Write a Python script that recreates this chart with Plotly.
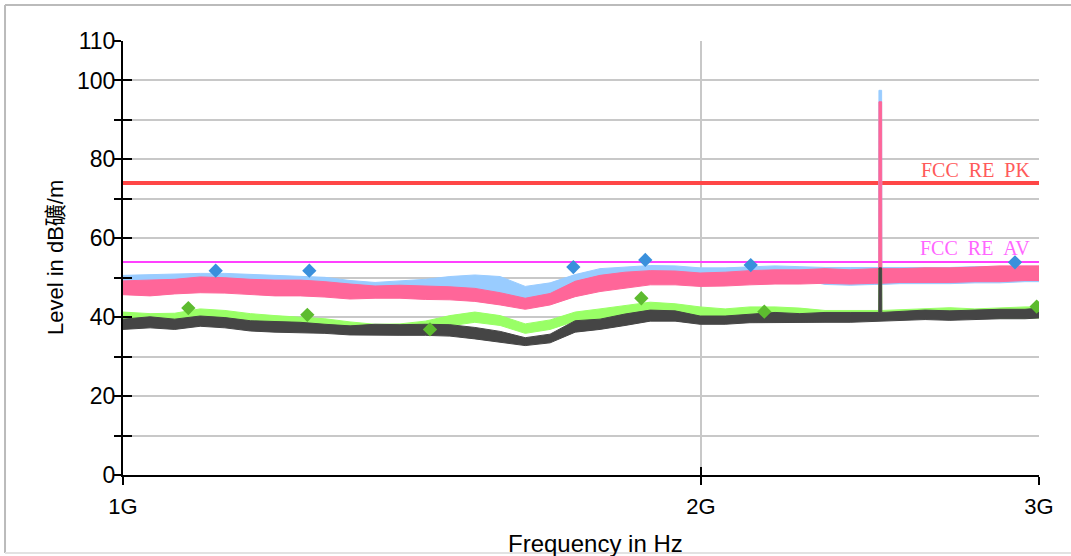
import plotly.graph_objects as go

# ---------------- data ----------------
freq_ghz = [1.000, 1.033, 1.064, 1.097, 1.130, 1.165, 1.200, 1.237, 1.274, 1.313,
            1.353, 1.394, 1.437, 1.480, 1.525, 1.572, 1.620, 1.669, 1.720, 1.772,
            1.826, 1.882, 1.939, 1.998, 2.059, 2.121, 2.186, 2.252, 2.321, 2.392,
            2.464, 2.4755, 2.476, 2.484, 2.4845, 2.539, 2.617, 2.696, 2.778, 2.863,
            2.950, 3.000]

peak_hi = [50.6, 50.8, 50.8, 51.1, 51.1, 50.8, 50.5, 50.3, 50.1, 49.3,
           48.8, 49.2, 49.6, 50.3, 50.7, 50.3, 47.8, 48.7, 50.8, 52.3,
           52.7, 53.1, 53.0, 52.5, 52.5, 52.8, 53.0, 52.8, 52.6, 52.6,
           52.6, 52.6, 97.5, 97.5, 52.6, 52.6, 52.6, 52.6, 52.8, 52.9,
           52.9, 52.9]
peak_lo = [47.4, 47.2, 47.6, 47.9, 47.8, 47.4, 47.2, 47.2, 46.9, 46.4,
           46.5, 46.5, 46.3, 46.2, 45.8, 45.0, 44.0, 45.0, 46.8, 48.0,
           48.8, 49.5, 49.5, 49.2, 49.3, 49.5, 49.6, 49.6, 48.3, 48.1,
           48.3, 48.3, 48.3, 48.3, 48.3, 48.5, 48.5, 48.5, 48.7, 48.7,
           49.0, 49.0]

peak2_hi = [49.2, 49.4, 49.6, 50.2, 50.0, 49.6, 49.4, 49.4, 49.0, 48.4,
            47.9, 48.1, 47.9, 47.7, 47.3, 46.2, 44.8, 46.0, 49.1, 50.6,
            51.4, 51.8, 51.7, 51.2, 51.4, 51.8, 52.0, 52.0, 52.3, 52.0,
            52.3, 52.3, 94.6, 94.6, 52.3, 52.3, 52.5, 52.5, 52.7, 53.0,
            53.0, 53.0]
peak2_lo = [45.7, 45.4, 45.9, 46.2, 46.1, 45.7, 45.4, 45.4, 45.1, 44.6,
            44.8, 44.8, 44.5, 44.4, 44.0, 43.1, 42.0, 43.1, 45.2, 46.5,
            47.3, 48.2, 48.2, 47.8, 47.9, 48.2, 48.4, 48.4, 48.6, 48.4,
            48.6, 48.6, 48.6, 48.6, 48.6, 48.8, 48.8, 48.8, 49.0, 49.0,
            49.3, 49.3]

avg_hi = [41.3, 40.9, 41.0, 42.1, 41.7, 40.9, 40.4, 40.0, 39.6, 38.8,
          38.2, 38.3, 39.0, 40.4, 41.3, 40.4, 38.3, 39.3, 41.3, 42.1,
          43.0, 43.8, 43.4, 42.6, 42.1, 42.6, 42.6, 42.3, 41.7, 41.7,
          41.7, 41.7, 52.0, 52.0, 41.7, 41.9, 42.1, 42.4, 42.1, 42.4,
          42.6, 42.6]
avg_lo = [39.0, 39.3, 39.0, 39.6, 39.3, 38.6, 38.3, 38.0, 37.6, 37.0,
          37.0, 37.0, 37.2, 37.8, 38.7, 37.9, 35.9, 36.9, 39.0, 39.4,
          40.3, 41.1, 40.7, 39.8, 39.4, 39.8, 40.3, 40.3, 39.6, 39.6,
          39.6, 39.6, 39.6, 39.6, 39.6, 39.6, 39.7, 39.7, 39.7, 39.8,
          39.8, 39.8]

avg2_hi = [39.5, 40.1, 39.5, 40.3, 39.9, 39.1, 38.9, 38.7, 38.2, 37.8,
           38.2, 38.1, 38.2, 38.1, 37.4, 36.4, 34.8, 35.7, 39.1, 39.5,
           40.8, 41.8, 41.6, 40.3, 40.3, 40.8, 41.2, 40.9, 41.2, 41.2,
           41.2, 41.2, 52.5, 52.5, 41.2, 41.4, 41.8, 41.6, 41.8, 42.0,
           42.0, 42.3]
avg2_lo = [36.9, 37.3, 36.9, 37.7, 37.3, 36.5, 36.2, 36.0, 35.9, 35.5,
           35.4, 35.4, 35.4, 35.2, 34.5, 33.7, 32.8, 33.5, 36.2, 36.9,
           37.9, 39.0, 39.0, 38.2, 38.2, 38.6, 38.7, 38.7, 38.7, 38.7,
           39.0, 39.0, 39.0, 39.0, 39.0, 39.2, 39.4, 39.2, 39.4, 39.6,
           39.6, 39.8]

pk_marker_f = [1.1176, 1.2504, 1.7162, 1.8709, 2.1231, 2.9148]
pk_marker_v = [51.8, 51.8, 52.7, 54.5, 53.2, 53.9]
av_marker_f = [1.0815, 1.2474, 1.4451, 1.8620, 2.1580, 2.9917]
av_marker_v = [42.3, 40.6, 36.9, 44.8, 41.4, 42.7]

limit_f = [1.0, 3.0]
limit_pk = 74.0
limit_av = 54.0
limit_names = ["FCC\u00a0\u00a0RE\u00a0\u00a0PK", "FCC\u00a0\u00a0RE\u00a0\u00a0AV"]

y_ticks = [0, 10, 20, 30, 40, 50, 60, 70, 80, 90, 100, 110]
y_ticktext = ["0", "", "20", "", "40", "", "60", "", "80", "", "100", "110"]
x_ticks_ghz = [1, 2, 3]
x_ticktext = ["1G", "2G", "3G"]

# ---------------- figure ----------------
GHZ = 1e9
fx = [f * GHZ for f in freq_ghz]
FONT = "Arial, Liberation Sans, Noto Sans CJK SC, sans-serif"
SERIF = "Liberation Serif, DejaVu Serif, serif"

fig = go.Figure()

# limit lines (underneath the measured data)
fig.add_trace(go.Scatter(x=[f * GHZ for f in limit_f], y=[limit_pk] * 2, mode="lines",
                         line=dict(color="#FF4646", width=4), xaxis="x", yaxis="y",
                         hoverinfo="skip"))
fig.add_trace(go.Scatter(x=[f * GHZ for f in limit_f], y=[limit_av] * 2, mode="lines",
                         line=dict(color="#FF40FF", width=2), xaxis="x", yaxis="y",
                         hoverinfo="skip"))


def band(hi, lo, color):
    return go.Scatter(x=fx + fx[::-1], y=hi + lo[::-1], mode="lines", fill="toself",
                      fillcolor=color, line=dict(color=color, width=1),
                      xaxis="x2", yaxis="y2", hoverinfo="skip")


fig.add_trace(band(peak_hi, peak_lo, "#99CCFF"))
fig.add_trace(band(peak2_hi, peak2_lo, "#FF6699"))
fig.add_trace(band(avg_hi, avg_lo, "#99FF66"))
fig.add_trace(band(avg2_hi, avg2_lo, "#454545"))

fig.add_trace(go.Scatter(x=[f * GHZ for f in pk_marker_f], y=pk_marker_v, mode="markers",
                         marker=dict(symbol="diamond", size=11, color="#3A90DC"),
                         xaxis="x2", yaxis="y2"))
fig.add_trace(go.Scatter(x=[f * GHZ for f in av_marker_f], y=av_marker_v, mode="markers",
                         marker=dict(symbol="diamond", size=11, color="#5DBB2F"),
                         xaxis="x2", yaxis="y2"))

xr = [9, 9.477121254719663]
common_x = dict(type="log", range=xr, tickvals=[v * GHZ for v in x_ticks_ghz])
common_y = dict(range=[0, 110], tickvals=y_ticks)

fig.update_layout(
    width=1071, height=556,
    margin=dict(l=123, r=32, t=41, b=81),
    paper_bgcolor="white", plot_bgcolor="white",
    showlegend=False,
    font=dict(family=FONT, size=22, color="black"),
    xaxis=dict(**common_x, ticktext=x_ticktext, showgrid=True, gridcolor="#C8C8C8",
               gridwidth=2, showline=True, linecolor="black", linewidth=2,
               ticks="outside", ticklen=8, tickwidth=2, tickcolor="black",
               ticklabelstandoff=3, zeroline=False,
               tickfont=dict(family=FONT, size=22, color="black")),
    yaxis=dict(**common_y, ticktext=y_ticktext, showgrid=True, gridcolor="#C8C8C8",
               gridwidth=2, showline=True, linecolor="black", linewidth=2,
               ticks="outside", ticklen=7, tickwidth=2, tickcolor="black",
               ticklabelstandoff=-6,
               zeroline=False, tickfont=dict(family=FONT, size=23, color="black")),
    xaxis2=dict(**common_x, overlaying="x", side="bottom", showgrid=False,
                showline=False, ticks="inside", ticklen=8, tickwidth=2,
                tickcolor="black", showticklabels=False, zeroline=False),
    yaxis2=dict(**common_y, overlaying="y", side="left", showgrid=False,
                showline=False, ticks="inside", ticklen=9, tickwidth=2,
                tickcolor="black", showticklabels=False, zeroline=False),
    annotations=[
        dict(text="Level in dB礦/m", textangle=-90, xref="paper", yref="paper",
             x=-0.0742, y=0.5, xanchor="center", yanchor="middle", showarrow=False,
             font=dict(family=FONT, size=22, color="black")),
        dict(text="Frequency in Hz", xref="paper", yref="paper",
             x=0.5153, y=-0.1567, xanchor="center", yanchor="middle", showarrow=False,
             font=dict(family=FONT, size=24, color="black")),
        dict(text=limit_names[0], xref="paper", yref="paper", x=0.9924, y=0.7039,
             xanchor="right", yanchor="middle", showarrow=False,
             font=dict(family=SERIF, size=20, color="#FF5A5A")),
        dict(text=limit_names[1], xref="paper", yref="paper", x=0.9924, y=0.5219,
             xanchor="right", yanchor="middle", showarrow=False,
             font=dict(family=SERIF, size=20, color="#FF66FF")),
    ],
    shapes=[
        dict(type="line", xref="paper", yref="paper", x0=-0.1288, x1=-0.1288,
             y0=-0.1797, y1=1.0829, line=dict(color="#BBBBBB", width=2)),
        dict(type="line", xref="paper", yref="paper", x0=-0.1288, x1=1.04,
             y0=1.0829, y1=1.0829, line=dict(color="#BBBBBB", width=2)),
        dict(type="line", xref="paper", yref="paper", x0=-0.1288, x1=1.04,
             y0=-0.1797, y1=-0.1797, line=dict(color="#E2E2E2", width=2)),
    ],
)

fig.write_html("out.html", config={"displayModeBar": False},
               post_script="document.body.style.margin='0';document.body.style.padding='0';")
